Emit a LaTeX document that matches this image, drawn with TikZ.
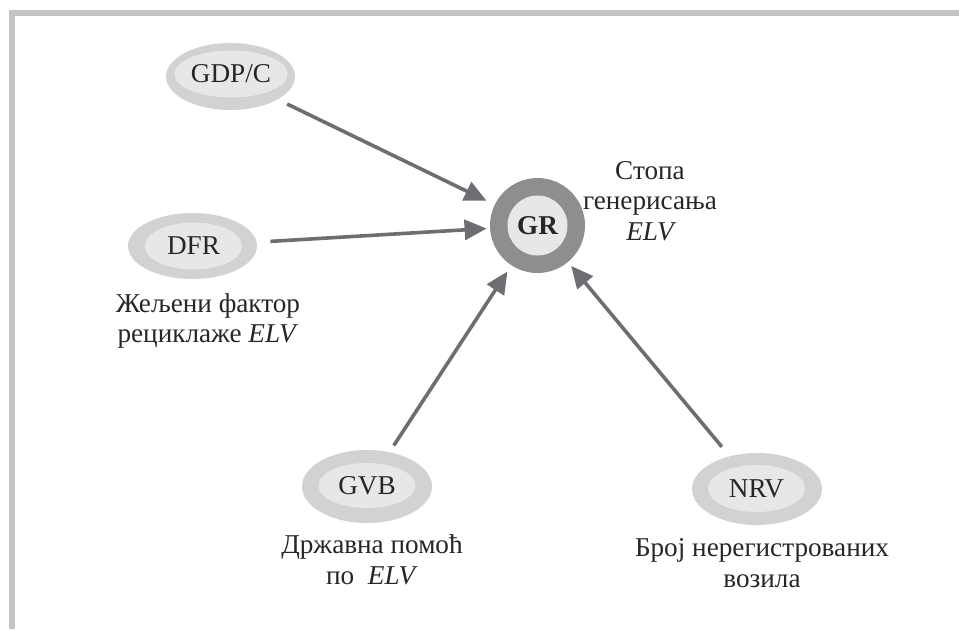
\documentclass[tikz,border=0pt]{standalone}
\usepackage{fontspec}
\setmainfont{Liberation Serif}
\usetikzlibrary{shapes.geometric,arrows.meta}
\definecolor{framegray}{HTML}{C2C3C5}
\definecolor{ringfill}{HTML}{D1D2D4}
\definecolor{corefill}{HTML}{E6E7E8}
\definecolor{hubring}{HTML}{8D8E90}
\definecolor{linkgray}{HTML}{6D6E71}
\tikzset{
  ring/.style={ellipse, fill=ringfill, inner sep=0pt, outer sep=0pt},
  core/.style={ellipse, fill=corefill, inner sep=0pt, outer sep=0pt,
    minimum width=48.5pt, minimum height=23.5pt},
  caption/.style={align=center, inner sep=0pt},
  link/.style={draw=linkgray, line width=1.8pt,
    -{Triangle[length=11pt,width=10pt]}},
}
\begin{document}
\begin{tikzpicture}[x=0.5pt, y=-0.5pt,
  every node/.style={font=\fontsize{13.6}{15.4}\selectfont, text=black!85}]
\useasboundingbox (0,0) rectangle (959,629);
% frame
\draw[framegray, line width=3pt] (11.5,629) -- (11.5,12.5) -- (959,12.5);

% hub
\node[circle, fill=hubring, minimum size=47.5pt, inner sep=0pt] (gr) at (537.5,225.5) {};
\node[circle, fill=corefill, minimum size=30pt, inner sep=0pt] (grin) at (537.5,225.5) {\bfseries GR};
\node[caption] (grlab) at (650,201) {Стопа\\генерисања\\\itshape ELV};

% sources
\node[ring, minimum width=64.5pt, minimum height=33.5pt] (gdp) at (230.5,76.5) {};
\node[core] (gdpin) at (231,74) {GDP/C};

\node[ring, minimum width=64.5pt, minimum height=33pt] (dfr) at (192.5,246) {};
\node[core] (dfrin) at (193.5,246) {DFR};
\node[caption] (dfrlab) at (208,321) {Жељени фактор\\рециклаже \textit{ELV}};

\node[ring, minimum width=65pt, minimum height=36.5pt] (gvb) at (367,486.5) {};
\node[core, minimum height=22.5pt] (gvbin) at (367,485.5) {GVB};
\node[caption] (gvblab) at (372,560) {Државна помоћ\\по \ \textit{ELV}};

\node[ring, minimum width=65pt, minimum height=36pt] (nrv) at (757,489) {};
\node[core] (nrvin) at (756.5,488.5) {NRV};
\node[caption] (nrvlab) at (762,563) {Број нерегистрованих\\возила};

% influences on the generation rate
\draw[link, shorten <=31.5pt, shorten >=28.3pt] (gdp.center) -- (gr.center);
\draw[link, shorten <=39pt, shorten >=25.5pt] (dfr.center) -- (gr.center);
\draw[link, shorten <=24.5pt, shorten >=27.5pt] (gvb.center) -- (gr.center);
\draw[link, shorten <=27.5pt, shorten >=26.3pt] (nrv.center) -- (gr.center);
\end{tikzpicture}
\end{document}
